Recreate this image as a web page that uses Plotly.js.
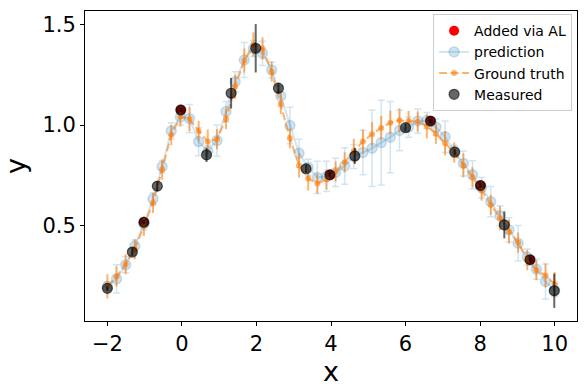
<!DOCTYPE html>
<html>
<head>
<meta charset="utf-8">
<script src="https://cdn.plot.ly/plotly-3.0.1.min.js"></script>
<style>html,body{margin:0;padding:0;background:#fff;}#chart{width:586px;height:390px;}</style>
</head>
<body>
<div id="chart"></div>
<script>
// grid of prediction / ground-truth points
const gridX = [-2.000,-1.755,-1.510,-1.265,-1.020,-0.776,-0.531,-0.286,-0.041,0.204,
  0.449,0.694,0.939,1.184,1.429,1.673,1.918,2.163,2.408,2.653,
  2.898,3.143,3.388,3.633,3.878,4.122,4.367,4.612,4.857,5.102,
  5.347,5.592,5.837,6.082,6.327,6.571,6.816,7.061,7.306,7.551,
  7.796,8.041,8.286,8.531,8.776,9.020,9.265,9.510,9.755,10.000];

const predY = [0.20,0.237,0.307,0.40,0.51,0.634,0.794,0.971,1.04,1.032,
  0.918,0.87,0.923,1.067,1.215,1.323,1.38,1.356,1.273,1.144,
  0.998,0.86,0.79,0.74,0.745,0.765,0.797,0.844,0.864,0.885,
  0.913,0.94,0.973,0.99,1.02,1.022,0.99,0.942,0.87,0.81,
  0.753,0.69,0.62,0.55,0.48,0.414,0.345,0.285,0.224,0.18];
const predErr = [0.02,0.07,0.04,0.03,0.03,0.03,0.03,0.04,0.04,0.07,
  0.07,0.03,0.078,0.05,0.05,0.087,0.04,0.06,0.04,0.05,
  0.09,0.07,0.04,0.08,0.075,0.07,0.09,0.06,0.11,0.19,
  0.21,0.177,0.10,0.05,0.06,0.04,0.04,0.078,0.03,0.062,
  0.07,0.05,0.075,0.05,0.06,0.088,0.04,0.05,0.087,0.03];

const truthY = [0.20,0.249,0.31,0.384,0.50,0.614,0.78,0.951,1.042,1.03,
  0.971,0.918,0.93,1.03,1.19,1.32,1.40,1.38,1.265,1.105,
  0.935,0.80,0.735,0.71,0.73,0.77,0.815,0.872,0.918,0.955,
  0.986,1.012,1.024,1.02,1.017,0.994,0.957,0.91,0.864,0.80,
  0.741,0.675,0.604,0.538,0.472,0.417,0.33,0.28,0.254,0.211];
const truthErr = [0.06,0.05,0.05,0.05,0.05,0.05,0.05,0.05,0.05,0.06,
  0.05,0.06,0.05,0.05,0.06,0.06,0.06,0.055,0.05,0.05,
  0.05,0.06,0.06,0.05,0.05,0.05,0.05,0.06,0.06,0.06,
  0.06,0.06,0.06,0.05,0.05,0.06,0.05,0.06,0.05,0.06,
  0.05,0.05,0.05,0.06,0.06,0.05,0.05,0.05,0.06,0.06];

// measured points
const measX = [-2.0,-1.33,-1.02,-0.66,-0.03,0.66,1.32,1.98,2.59,3.33,3.97,4.64,6.0,6.67,7.32,8.01,8.65,9.34,9.99];
const measY = [0.19,0.37,0.518,0.697,1.075,0.852,1.158,1.381,1.183,0.783,0.753,0.847,0.987,1.02,0.866,0.70,0.505,0.332,0.178];
const measErr = [0.01,0.02,0.01,0.025,0.01,0.035,0.076,0.12,0.027,0.02,0.01,0.04,0.02,0.01,0.015,0.01,0.067,0.01,0.085];

// added via active learning
const alX = [-1.02,-0.03,3.97,6.67,8.01,9.34];
const alY = [0.518,1.075,0.753,1.02,0.70,0.332];

const font = 'DejaVu Sans, sans-serif';
const blueA = 'rgba(31,119,180,0.2)';
const orangeA = 'rgba(255,127,14,0.6)';
const blackA = 'rgba(0,0,0,0.6)';

const traces = [
  {x: alX, y: alY, mode: 'markers', type: 'scatter', name: 'Added via AL',
   marker: {color: 'red', size: 10}},
  {x: gridX, y: predY, mode: 'lines+markers', type: 'scatter', name: 'prediction',
   line: {color: blueA, width: 2},
   marker: {color: blueA, size: 10, line: {color: blueA, width: 1.5}},
   error_y: {type: 'data', array: predErr, visible: true, color: blueA, thickness: 1.5, width: 3.5}},
  {x: gridX, y: truthY, mode: 'lines+markers', type: 'scatter', name: 'Ground truth',
   line: {color: orangeA, width: 2, dash: '8px,3.5px'},
   marker: {color: orangeA, size: 6},
   error_y: {type: 'data', array: truthErr, visible: true, color: orangeA, thickness: 2, width: 0}},
  {x: measX, y: measY, mode: 'markers', type: 'scatter', name: 'Measured',
   marker: {color: blackA, size: 10, line: {color: blackA, width: 1.2}},
   error_y: {type: 'data', array: measErr, visible: true, color: blackA, thickness: 2, width: 0}}
];

const layout = {
  width: 586, height: 390,
  margin: {l: 85, r: 9, t: 11, b: 69},
  paper_bgcolor: '#fff', plot_bgcolor: '#fff',
  font: {family: font, color: '#000'},
  showlegend: true,
  legend: {x: 0.99, xanchor: 'right', y: 0.99, yanchor: 'top',
    bgcolor: 'rgba(255,255,255,0.8)', bordercolor: '#cccccc', borderwidth: 1,
    font: {family: font, size: 14, color: '#000'}},
  xaxis: {range: [-2.6, 10.6], tickvals: [-2,0,2,4,6,8,10], ticks: 'outside', ticklen: 4, tickwidth: 1,
    tickcolor: '#000', showgrid: false, zeroline: false, showline: true, mirror: true,
    linecolor: '#000', linewidth: 1, tickfont: {family: font, size: 21},
    title: {text: 'x', font: {family: font, size: 27}, standoff: 2}},
  yaxis: {range: [0.028, 1.566], tickvals: [0.5,1.0,1.5], ticktext: ['0.5','1.0','1.5'], ticks: 'outside',
    ticklen: 4, tickwidth: 1, tickcolor: '#000', showgrid: false, zeroline: false, showline: true,
    mirror: true, linecolor: '#000', linewidth: 1, tickfont: {family: font, size: 21},
    title: {text: 'y', font: {family: font, size: 27}, standoff: 8}}
};

Plotly.newPlot('chart', traces, layout, {displayModeBar: false, staticPlot: true});
</script>
</body>
</html>
